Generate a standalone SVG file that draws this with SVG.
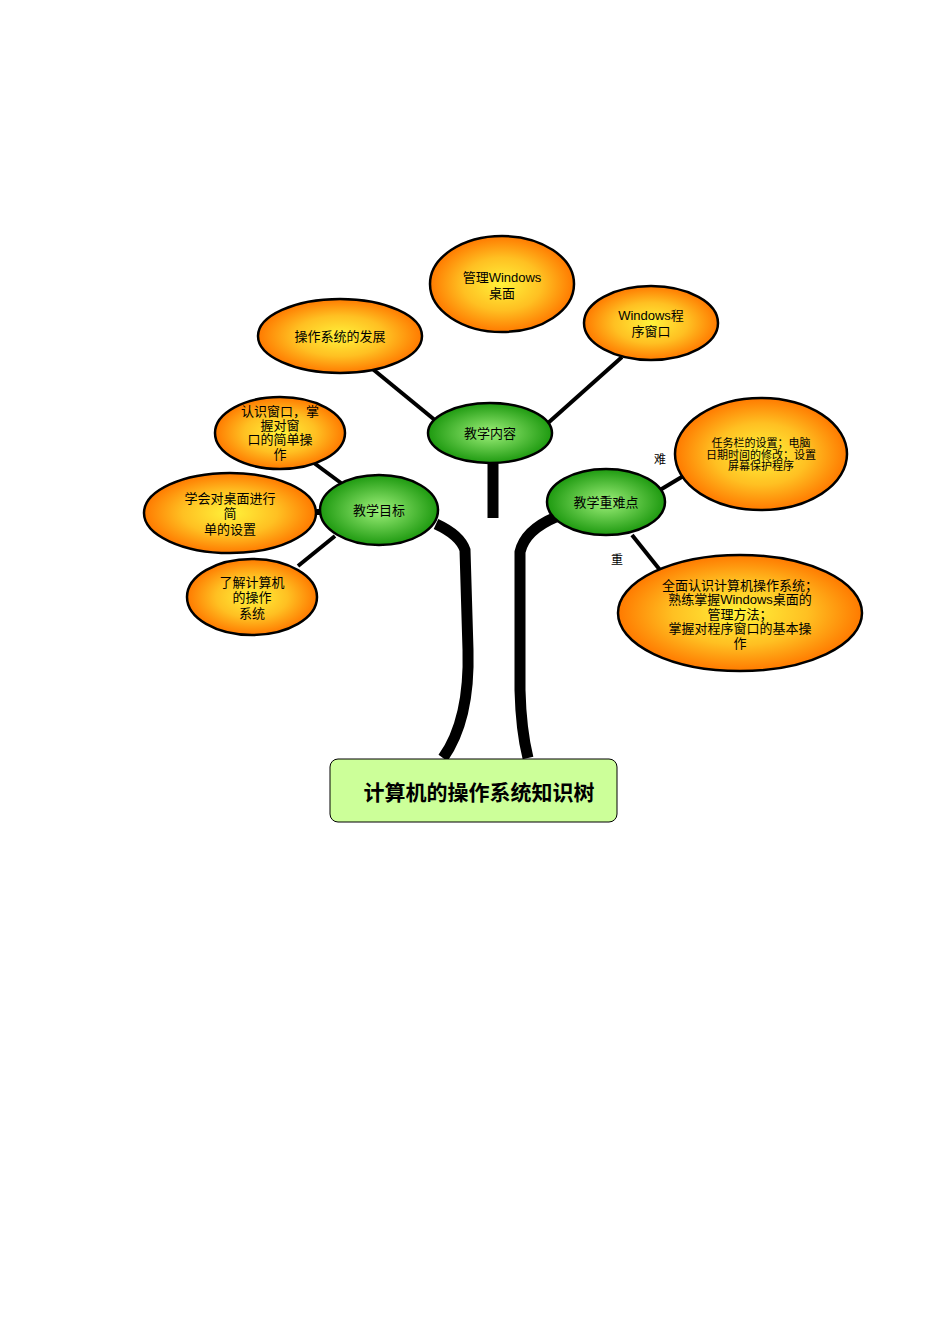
<svg xmlns="http://www.w3.org/2000/svg" width="950" height="1344" viewBox="0 0 950 1344">
<defs>
<radialGradient id="og" cx="50%" cy="50%" r="50%"><stop offset="0" stop-color="#fff23a"/><stop offset="0.55" stop-color="#ffc022"/><stop offset="1" stop-color="#ff7a00"/></radialGradient>
<radialGradient id="gg" cx="50%" cy="50%" r="50%"><stop offset="0" stop-color="#9ef07a"/><stop offset="1" stop-color="#1e9a10"/></radialGradient>
<style>
.o{fill:url(#og);stroke:#000;stroke-width:2.5}
.g{fill:url(#gg);stroke:#000;stroke-width:2.5}
text{font-family:"Noto Sans CJK SC","Liberation Serif",serif;fill:#000;text-anchor:middle}
.s{font-family:"Liberation Sans","Noto Sans CJK SC",sans-serif}
.l{stroke:#000;stroke-width:4;fill:none}
.t{stroke:#000;stroke-width:11;fill:none}
</style>
</defs>
<g id="connectors">
<path class="t" d="M436,524 Q460,535 465,550 L468,650 Q470,720 443,758"/>
<path class="t" d="M556,517 Q525,530 520,552 L520,690 Q521,730 528,758"/>
<path class="t" d="M493,463 L493,518"/>
<line class="l" x1="369" y1="366" x2="436" y2="421"/>
<line class="l" x1="548" y1="423" x2="622" y2="357"/>
<line class="l" x1="314" y1="463" x2="341" y2="483"/>
<line class="l" x1="302" y1="512" x2="320" y2="512" style="stroke-width:6"/>
<line class="l" x1="298" y1="566" x2="335" y2="536"/>
<line class="l" x1="660" y1="490" x2="690" y2="472"/>
<line class="l" x1="632" y1="535" x2="660" y2="570"/>
<text x="660" y="464" font-size="12">难</text>
<text x="617" y="564" font-size="12">重</text>
</g>
<g id="n_root"><rect x="330" y="759" width="287" height="63" rx="8" fill="#ccff99" stroke="#000" stroke-width="1"/><text x="479" y="800" font-size="21" font-weight="bold">计算机的操作系统知识树</text></g>
<g id="n_content"><ellipse class="g" cx="490" cy="433" rx="62" ry="30"/><text x="490" y="438" font-size="13">教学内容</text></g>
<g id="n_goal"><ellipse class="g" cx="379" cy="510" rx="59" ry="35"/><text x="379" y="515" font-size="13">教学目标</text></g>
<g id="n_key"><ellipse class="g" cx="606" cy="502" rx="59" ry="33"/><text x="606" y="507" font-size="13">教学重难点</text></g>
<g id="n_dev"><ellipse class="o" cx="340" cy="336" rx="82" ry="37"/><text x="340" y="341" font-size="13">操作系统的发展</text></g>
<g id="n_desk"><ellipse class="o" cx="502" cy="284" rx="72" ry="48"/><text x="502" y="282" font-size="13" class="s">管理Windows</text><text x="502" y="298" font-size="13">桌面</text></g>
<g id="n_win"><ellipse class="o" cx="651" cy="323" rx="67" ry="37"/><text x="651" y="320" font-size="13" class="s">Windows程</text><text x="651" y="336" font-size="13">序窗口</text></g>
<g id="n_g1"><ellipse class="o" cx="280" cy="433" rx="65" ry="36"/><text x="280" y="416" font-size="13">认识窗口，掌</text><text x="280" y="430" font-size="13">握对窗</text><text x="280" y="444" font-size="13">口的简单操</text><text x="280" y="459" font-size="13">作</text></g>
<g id="n_g2"><ellipse class="o" cx="230" cy="513" rx="86" ry="40"/><text x="230" y="503" font-size="13">学会对桌面进行</text><text x="230" y="518" font-size="13">简</text><text x="230" y="534" font-size="13">单的设置</text></g>
<g id="n_g3"><ellipse class="o" cx="252" cy="597" rx="65" ry="38"/><text x="252" y="587" font-size="13">了解计算机</text><text x="252" y="602" font-size="13">的操作</text><text x="252" y="618" font-size="13">系统</text></g>
<g id="n_hard"><ellipse class="o" cx="761" cy="454" rx="86" ry="56"/><text x="761" y="447" font-size="11">任务栏的设置；电脑</text><text x="761" y="459" font-size="11">日期时间的修改；设置</text><text x="761" y="470" font-size="11">屏幕保护程序</text></g>
<g id="n_imp"><ellipse class="o" cx="740" cy="613" rx="122" ry="58"/><text x="740" y="590" font-size="13">全面认识计算机操作系统；</text><text x="740" y="604" font-size="13" class="s">熟练掌握Windows桌面的</text><text x="740" y="619" font-size="13">管理方法；</text><text x="740" y="633" font-size="13">掌握对程序窗口的基本操</text><text x="740" y="648" font-size="13">作</text></g>
</svg>
